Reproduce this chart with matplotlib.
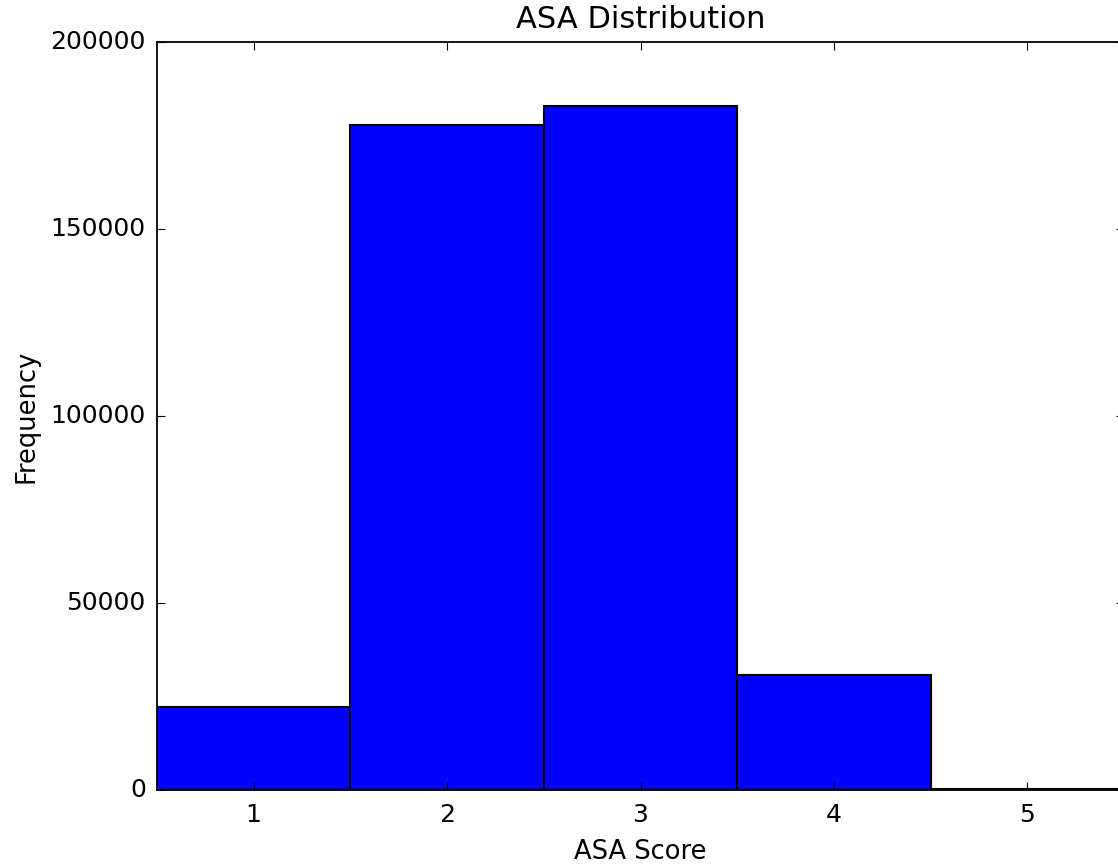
import matplotlib
matplotlib.use("Agg")
import matplotlib.pyplot as plt

# ASA score counts
asa_scores = [1, 2, 3, 4, 5]
frequencies = [22300, 177800, 183000, 30700, 400]
y_ticks = [0, 50000, 100000, 150000, 200000]

plt.style.use('classic')
fig = plt.figure(figsize=(11.18, 8.64), dpi=100)
fig.patch.set_facecolor('white')
ax = fig.add_axes([0.1404, 0.0856, 0.865, 0.8658])

ax.bar(asa_scores, frequencies, width=1.0, align='center', color='b',
       edgecolor='k', linewidth=1.5)

ax.set_xlim(0.5, 5.5)
ax.set_ylim(0, 200000)
ax.set_xticks(asa_scores)
ax.set_yticks(y_ticks)
ax.tick_params(labelsize=18, length=6, width=0.8, colors='k')
ax.tick_params(axis='y', pad=8)
ax.tick_params(axis='x', pad=9)
for s in ax.spines.values():
    s.set_linewidth(1.3)

ax.set_title("ASA Distribution", fontsize=22, pad=10)
ax.set_xlabel("ASA Score", fontsize=18.5, labelpad=9)
ax.set_ylabel("Frequency", fontsize=18.5, labelpad=8)

fig.savefig("out.png", dpi=100, facecolor='white')
